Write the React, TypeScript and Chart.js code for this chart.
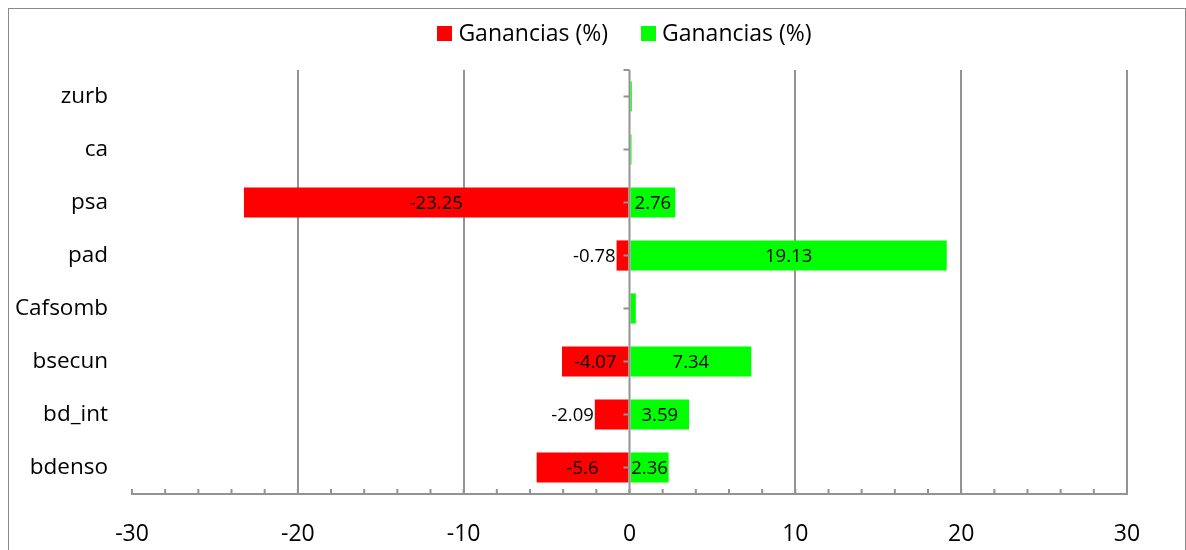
import { useEffect, useRef } from 'react';
import { Chart, registerables } from 'chart.js';

Chart.register(...registerables);

// Categories, listed top to bottom
const categories = ['zurb', 'ca', 'psa', 'pad', 'Cafsomb', 'bsecun', 'bd_int', 'bdenso'];
// Negative side (red) and positive side (green)
const lossValues = [0, 0, -23.25, -0.78, 0, -4.07, -2.09, -5.6];
const gainValues = [0.14, 0.12, 2.76, 19.13, 0.38, 7.34, 3.59, 2.36];
const seriesLabels = ['Ganancias (%)', 'Ganancias (%)'];
const seriesColors = ['#FF0000', '#00FF00'];
const xMin = -30;
const xMax = 30;
const xStep = 10;
const minorStep = 2;

const FONT = '"Open Sans", "Noto Sans", sans-serif';
const GRID = '#939393';

// Axis at zero, category tick marks, minor ticks and value labels
const decorPlugin = {
  id: 'decor',
  afterDatasetsDraw(chart: any) {
    const { ctx, chartArea, scales } = chart;
    const xs = scales.x;
    const ys = scales.y;
    const x0 = xs.getPixelForValue(0);
    ctx.save();
    ctx.strokeStyle = GRID;
    ctx.lineWidth = 2;
    // vertical axis line at zero
    ctx.beginPath();
    ctx.moveTo(x0, chartArea.top);
    ctx.lineTo(x0, chartArea.bottom);
    ctx.stroke();
    // category tick marks left of the zero line
    const tickYs = [chartArea.top];
    categories.forEach((_, i) => tickYs.push(ys.getPixelForValue(i)));
    ctx.beginPath();
    tickYs.forEach((ty) => {
      ctx.moveTo(x0 - 6, ty);
      ctx.lineTo(x0, ty);
    });
    ctx.stroke();
    // minor ticks on the value axis
    ctx.beginPath();
    for (let v = xMin; v <= xMax; v += minorStep) {
      const tx = xs.getPixelForValue(v);
      ctx.moveTo(tx, chartArea.bottom);
      ctx.lineTo(tx, chartArea.bottom - 5);
    }
    ctx.stroke();

    // value labels: centred in the bar, or beside it when the bar is too short
    ctx.font = `18.5px ${FONT}`;
    ctx.fillStyle = '#000';
    ctx.textBaseline = 'middle';
    chart.data.datasets.forEach((ds: any, di: number) => {
      const meta = chart.getDatasetMeta(di);
      meta.data.forEach((bar: any, i: number) => {
        const v = ds.data[i] as number;
        if (Math.abs(v) < 0.5) return;
        const { x, base, y } = bar.getProps(['x', 'base', 'y'], true);
        const left = Math.min(x, base);
        const right = Math.max(x, base);
        const text = String(v);
        const w = ctx.measureText(text).width;
        if (w - 3 <= right - left) {
          ctx.textAlign = 'center';
          ctx.fillText(text, (left + right) / 2, y + 1);
        } else if (v < 0) {
          ctx.textAlign = 'right';
          ctx.fillText(text, left - 1, y + 1);
        } else {
          ctx.textAlign = 'left';
          ctx.fillText(text, right + 1, y + 1);
        }
      });
    });
    ctx.restore();
  },
};

// Legend row above the plot
const legendPlugin = {
  id: 'topLegend',
  afterDraw(chart: any) {
    const { ctx, chartArea } = chart;
    ctx.save();
    ctx.font = `23px ${FONT}`;
    ctx.textBaseline = 'middle';
    ctx.textAlign = 'left';
    const box = 15;
    const gapText = 6;
    const gapItem = 33;
    const widths = seriesLabels.map((t) => box + gapText + ctx.measureText(t).width);
    const total = widths.reduce((a, b) => a + b, 0) + gapItem * (widths.length - 1);
    const cx = (chartArea.left + chartArea.right) / 2 - 5;
    const cy = 24.5;
    let x = cx - total / 2;
    seriesLabels.forEach((t, i) => {
      ctx.fillStyle = seriesColors[i];
      ctx.fillRect(Math.round(x), Math.round(cy - box / 2), box, box);
      ctx.fillStyle = '#000';
      ctx.fillText(t, x + box + gapText, cy + 1);
      x += widths[i] + gapItem;
    });
    ctx.restore();
  },
};

export default function App() {
  const canvasRef = useRef<HTMLCanvasElement | null>(null);

  useEffect(() => {
    if (!canvasRef.current) return;
    const chart = new Chart(canvasRef.current, {
      type: 'bar',
      data: {
        labels: categories,
        datasets: [
          {
            label: seriesLabels[0],
            data: lossValues,
            backgroundColor: seriesColors[0],
            borderWidth: 0,
            barPercentage: 0.57,
            categoryPercentage: 1,
          },
          {
            label: seriesLabels[1],
            data: gainValues,
            backgroundColor: seriesColors[1],
            borderWidth: 0,
            barPercentage: 0.57,
            categoryPercentage: 1,
          },
        ],
      },
      options: {
        indexAxis: 'y',
        responsive: false,
        animation: false,
        layout: { padding: { top: 61, left: 0, right: 58, bottom: 0 } },
        plugins: {
          legend: { display: false },
          tooltip: { enabled: false },
        },
        scales: {
          x: {
            type: 'linear',
            stacked: true,
            min: xMin,
            max: xMax,
            ticks: {
              stepSize: xStep,
              color: '#000',
              font: { size: 23, family: FONT },
              padding: 27,
            },
            grid: {
              drawTicks: false,
              lineWidth: 2,
              color: (c: any) => (c.tick && (c.tick.value === xMin || c.tick.value === 0) ? 'rgba(0,0,0,0)' : GRID),
            },
            border: { display: true, color: GRID, width: 2 },
            afterFit: (s: any) => {
              s.height = 75;
            },
          },
          y: {
            type: 'category',
            stacked: true,
            offset: true,
            ticks: {
              color: '#000',
              font: { size: 22.5, family: FONT },
              padding: 24,
            },
            grid: { display: false, drawTicks: false },
            border: { display: false },
            afterFit: (s: any) => {
              s.width = 123;
            },
          },
        },
      },
      plugins: [decorPlugin, legendPlugin],
    } as any);
    return () => chart.destroy();
  }, []);

  return (
    <div style={{ position: 'fixed', left: 8, top: 8, width: 1178, height: 542, overflow: 'hidden' }}>
      <div
        style={{
          boxSizing: 'border-box',
          width: 1178,
          height: 580,
          border: '1px solid #8a8a8a',
          background: '#fff',
        }}
      >
        <canvas ref={canvasRef} width={1176} height={560} style={{ display: 'block' }} />
      </div>
    </div>
  );
}
